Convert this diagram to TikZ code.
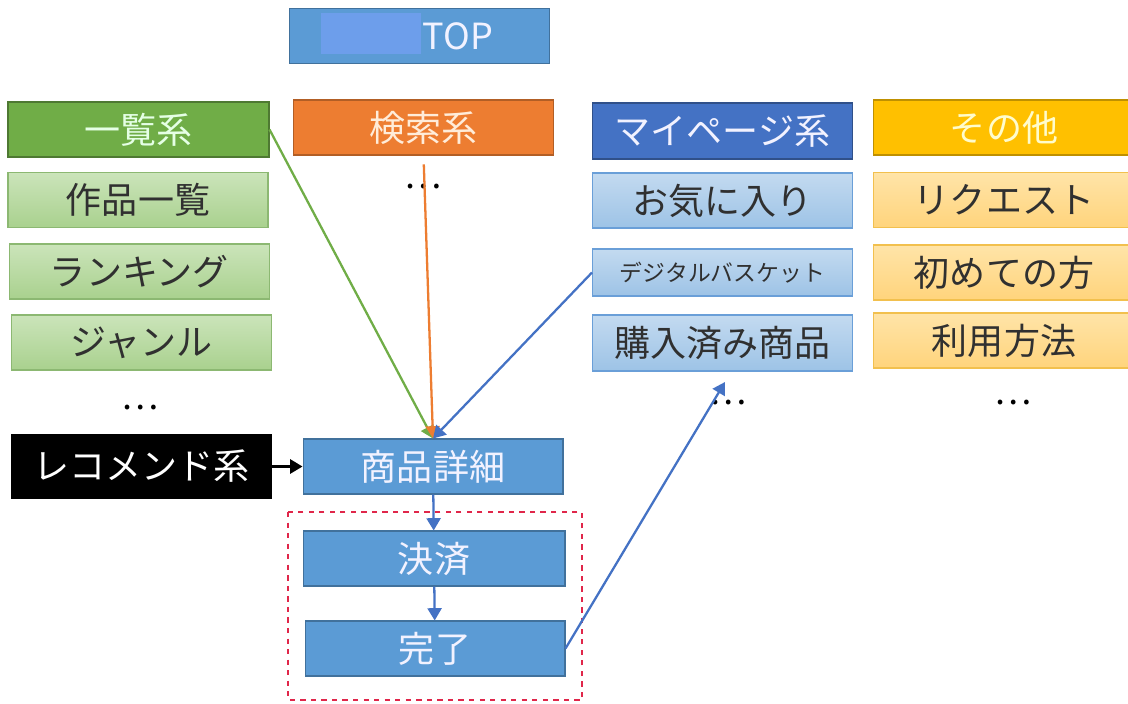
\documentclass[tikz,border=0pt]{standalone}
\usepackage{fontspec}
\setmainfont{Noto Sans CJK JP}
\usepackage{tikz}
\usetikzlibrary{arrows.meta}

\definecolor{topblue}{HTML}{5B9BD5}
\definecolor{topline}{HTML}{41719C}
\definecolor{patch}{HTML}{6D9EEB}
\definecolor{hdrgreen}{HTML}{70AD47}
\definecolor{hdrorange}{HTML}{ED7D31}
\definecolor{hdrblue}{HTML}{4472C4}
\definecolor{hdryellow}{HTML}{FFC000}
\definecolor{greentop}{HTML}{CBE4BA}
\definecolor{greenbot}{HTML}{A9D18E}
\definecolor{greenline}{HTML}{8CB872}
\definecolor{bluetop}{HTML}{C3DAF0}
\definecolor{bluebot}{HTML}{9DC3E6}
\definecolor{blueline}{HTML}{6A9FD8}
\definecolor{yellowtop}{HTML}{FFE4A8}
\definecolor{yellowbot}{HTML}{FFD47C}
\definecolor{yellowline}{HTML}{F2C04E}
\definecolor{itemtext}{HTML}{303030}
\definecolor{dashred}{HTML}{E0264A}

\begin{document}
\begin{tikzpicture}[x=0.02cm, y=-0.02cm,
    box/.style={draw, line width=0.6pt, minimum width=5.2cm, minimum height=1.1cm,
      inner sep=0pt, font=\fontsize{20.5}{24}\selectfont},
    flowbox/.style={box, fill=topblue, draw=topline, text=blue!5},
    greenitem/.style={box, draw=greenline, top color=greentop, bottom color=greenbot, text=itemtext},
    blueitem/.style={box, draw=blueline, top color=bluetop, bottom color=bluebot, text=itemtext},
    yellowitem/.style={box, draw=yellowline, top color=yellowtop, bottom color=yellowbot, text=itemtext},
    more/.style={inner sep=0pt, font=\fontsize{20}{22}\selectfont},
    link/.style={line width=1.3pt, -{Triangle[width=8pt,length=7pt]}}
  ]
  \useasboundingbox (0,0) rectangle (1128,703);

  % TOP
  \node[flowbox] (top) at (419.5,36) {};
  \fill[patch] (321,13) rectangle (421,54);
  \node[text=blue!5, font=\fontsize{20.5}{24}\selectfont] (toplabel) at (458,36) {TOP};

  % Headers
  \node[box, fill=hdrgreen, draw=hdrgreen!70!black, text=green!10, minimum width=5.22cm] (ichiran) at (138.5,129.5) {一覧系};
  \node[box, fill=hdrorange, draw=hdrorange!75!black, text=orange!15] (kensaku) at (423.5,127.5) {検索系};
  \node[box, fill=hdrblue, draw=hdrblue!70!black, text=blue!5, minimum height=1.12cm] (mypage) at (722.5,131) {マイページ系};
  \node[box, fill=hdryellow, draw=hdryellow!75!black, text=yellow!20, minimum width=5.24cm] (sonota) at (1004,127.5) {その他};

  % Items
  \node[greenitem] (sakuhin) at (138,200) {作品一覧};
  \node[greenitem] (ranking) at (139.5,271.5) {ランキング};
  \node[greenitem] (genre) at (141.5,342.5) {ジャンル};
  \node[more] (ichiranmore) at (140,408) {…};
  \node[box, fill=black, text=white, minimum height=1.26cm] (recommend) at (141.5,466.5) {レコメンド系};

  \node[more] (kensakumore) at (423,187) {…};

  \node[blueitem] (okiniiri) at (722.5,200.5) {お気に入り};
  \node[blueitem, minimum height=0.94cm, font=\fontsize{13}{15}\selectfont] (basket) at (722.5,272.5) {デジタルバスケット};
  \node[blueitem, minimum height=1.12cm] (kounyu) at (722.5,343) {購入済み商品};
  \node[more] (mypagemore) at (728,403) {…};

  \node[yellowitem, minimum width=5.24cm] (request) at (1004,200) {リクエスト};
  \node[yellowitem, minimum width=5.24cm] (hajimete) at (1004,272.5) {初めての方};
  \node[yellowitem, minimum width=5.24cm] (riyou) at (1004,340.5) {利用方法};
  \node[more] (sonotamore) at (1013,403) {…};

  % Purchase flow
  \node[flowbox] (shohin) at (433,466.5) {商品詳細};
  \node[flowbox, minimum width=5.24cm] (kessai) at (434,558.5) {決済};
  \node[flowbox] (kanryo) at (435,648.5) {完了};
  \draw[dashred, dashed, line width=0.9pt] (288,512) rectangle (582,700);

  % Arrows
  \coordinate (mypagein) at (725,382);
  \draw[link, hdrgreen] (ichiran.east) -- (shohin.north);
  \draw[link, hdrorange, shorten <=5pt] (kensaku.south) -- (shohin.north);
  \draw[link, hdrblue] (basket.west) -- (shohin.north);
  \draw[link, black] (recommend) -- (shohin);
  \draw[link, hdrblue] (shohin) -- (kessai);
  \draw[link, hdrblue] (kessai) -- (kanryo);
  \draw[link, hdrblue] (kanryo.east) -- (mypagein);
\end{tikzpicture}
\end{document}
